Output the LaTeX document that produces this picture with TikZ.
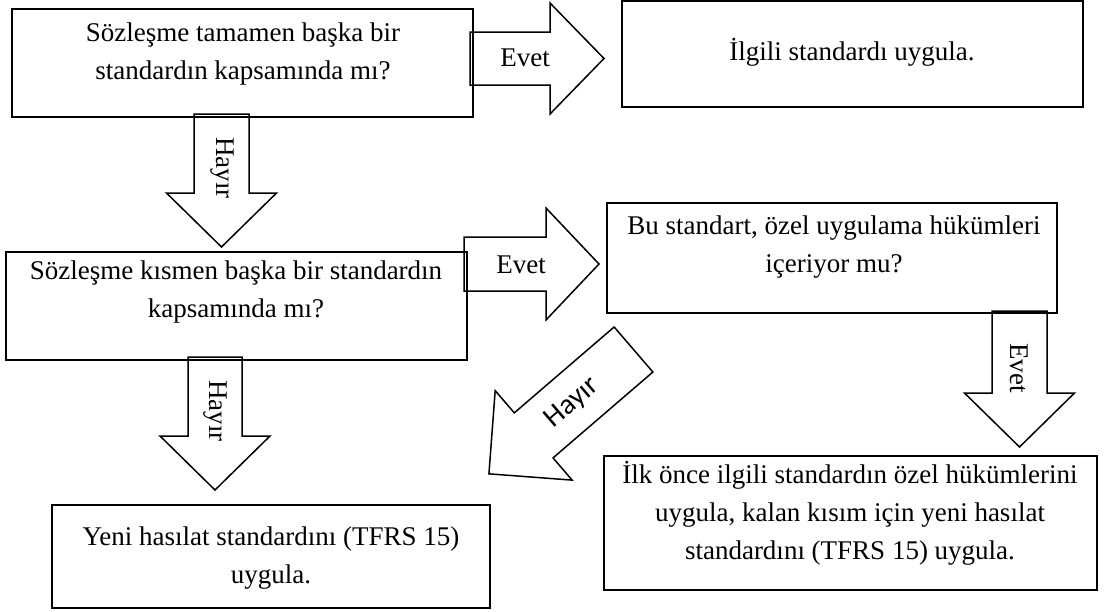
\documentclass[tikz,border=0pt]{standalone}
\usepackage{fontspec}
\setmainfont{Liberation Serif}
\newfontfamily\labelsans{Carlito}
\usetikzlibrary{calc}

% block arrow: tail point, angle, length, head length, shaft half width, head half width
\newcommand{\blockarr}[6]{%
  \draw[barrow, shift={#1}, rotate=#2]
    (0,-#5) -- ({#3-#4},-#5) -- ({#3-#4},-#6) -- (#3,0)
    -- ({#3-#4},#6) -- ({#3-#4},#5) -- (0,#5) -- cycle;}

\tikzset{
  box/.style={draw, line width=1.6pt, rectangle, inner sep=0pt},
  txt/.style={align=center, font=\fontsize{27}{38}\selectfont, inner sep=0pt},
  arrtxt/.style={font=\fontsize{27}{30}\selectfont, inner sep=0pt},
  barrow/.style={draw, line width=1.5pt, line join=miter},
}

\begin{document}
\begin{tikzpicture}[x=1pt, y=-1pt]
\useasboundingbox (0,0) rectangle (1109,611);

% boxes
\node[box, minimum width=461pt, minimum height=108pt] (b1) at (242.5,63) {};
\node[box, minimum width=461pt, minimum height=106pt] (b2) at (852.5,54) {};
\node[box, minimum width=461pt, minimum height=108pt] (b3) at (236.5,306) {};
\node[box, minimum width=450pt, minimum height=110pt] (b4) at (832,258) {};
\node[box, minimum width=438pt, minimum height=103pt] (b5) at (271,556.5) {};
\node[box, minimum width=493pt, minimum height=134pt] (b6) at (850.5,523) {};

% box texts
\node[txt] (t1) at (243,54) {Sözleşme tamamen başka bir\\standardın kapsamında mı?};
\node[txt] (t2) at (852,52) {İlgili standardı uygula.};
\node[txt] (t3) at (236,292) {Sözleşme kısmen başka bir standardın\\kapsamında mı?};
\node[txt] (t4) at (834,247) {Bu standart, özel uygulama hükümleri\\içeriyor mu?};
\node[txt] (t5) at (271,558) {Yeni hasılat standardını (TFRS 15)\\uygula.};
\node[txt] (t6) at (850,513) {İlk önce ilgili standardın özel hükümlerini\\uygula, kalan kısım için yeni hasılat\\standardını (TFRS 15) uygula.};

% block arrows
\blockarr{(470,58.5)}{0}{134}{54}{26.5}{55.5}
\blockarr{(221.5,114)}{-90}{133}{54}{27.5}{55}
\blockarr{(464,264)}{0}{135}{53}{27}{56}
\blockarr{(633.5,349.5)}{220.7}{190.7}{59}{29.7}{59}
\blockarr{(1019.5,311)}{-90}{136}{54}{27.5}{55}
\blockarr{(215,357)}{-90}{133}{54}{27}{55}

% arrow labels
\node[arrtxt] (l1) at (525,58) {Evet};
\node[arrtxt, rotate=-90] (l2) at (222,168) {Hayır};
\node[arrtxt] (l3) at (521,265) {Evet};
\node[arrtxt, font=\labelsans\fontsize{29}{32}\selectfont, rotate=40.7] (l4) at (572,403) {Hayır};
\node[arrtxt, rotate=-90] (l5) at (1019,368) {Evet};
\node[arrtxt, rotate=-90] (l6) at (215,411) {Hayır};
\end{tikzpicture}
\end{document}
